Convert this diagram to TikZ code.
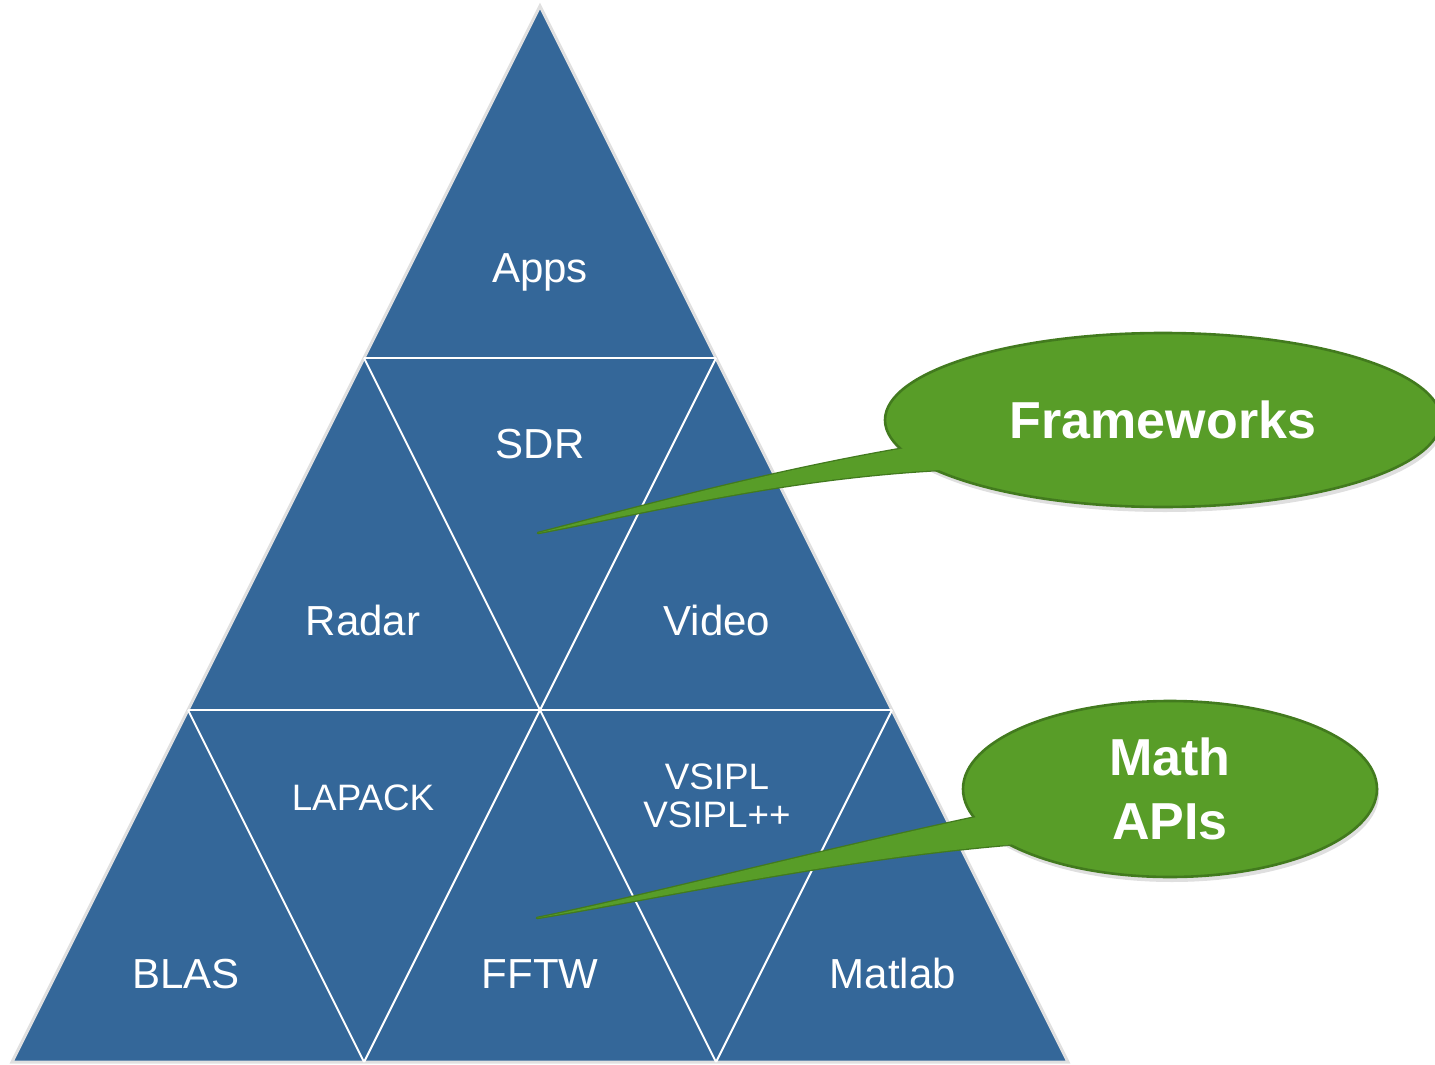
\documentclass[tikz,border=0pt]{standalone}
\usepackage{fontspec}
\setmainfont{Liberation Sans}
\usepackage{tikz}
\usetikzlibrary{positioning,calc,shapes.geometric,shadows}

\definecolor{pyramidblue}{RGB}{52,103,153}
\definecolor{bubblegreen}{RGB}{88,157,40}
\definecolor{bubbledark}{RGB}{66,122,30}

\begin{document}
\begin{tikzpicture}[x=0.5pt, y=-0.5pt,
    grid/.style={white, line width=1pt},
    lbl/.style={white, anchor=base, inner sep=0pt, font=\fontsize{21}{25}\selectfont},
    smalllbl/.style={white, inner sep=0pt, align=center, font=\fontsize{18.4}{19}\selectfont},
    bubble/.style={ellipse, fill=bubblegreen, draw=bubbledark, line width=1.3pt, inner sep=0pt,
        text=white, align=center, font=\bfseries\fontsize{26}{32}\selectfont,
        drop shadow={opacity=0.25, shadow xshift=1pt, shadow yshift=-2.5pt}},
    tailrim/.style={draw=bubbledark, line width=1.3pt, line join=round}]

    \useasboundingbox (0,0) rectangle (1435,1065);
    \clip (0,0) rectangle (1435,1065);

    % pyramid corners
    \coordinate (top) at (540,6);
    \coordinate (l1) at (364,358);
    \coordinate (r1) at (716,358);
    \coordinate (l2) at (188,710);
    \coordinate (m2) at (540,710);
    \coordinate (r2) at (892,710);
    \coordinate (b0) at (12,1062);
    \coordinate (b1) at (364,1062);
    \coordinate (b2) at (716,1062);
    \coordinate (b3) at (1068,1062);

    \draw[black!12, line width=1.5pt, fill=pyramidblue] (top) -- (b3) -- (b0) -- cycle;
    \draw[grid] (l1) -- (r1) (l2) -- (r2);
    \draw[grid] (l1) -- (b2) (r1) -- (b1) (l2) -- (b1) (r2) -- (b2);

    \node[lbl] (apps) at (540,282) {Apps};
    \node[lbl] (sdr) at (540,458) {SDR};
    \node[lbl] (radar) at (363,635) {Radar};
    \node[lbl] (video) at (717,635) {Video};
    \node[smalllbl, anchor=base] (lapack) at (363,810) {LAPACK};
    \node[smalllbl] (vsipl) at (717,796) {VSIPL\\VSIPL++};
    \node[lbl] (blas) at (186,988) {BLAS};
    \node[lbl] (fftw) at (540,988) {FFTW};
    \node[lbl] (matlab) at (893,988) {Matlab};

    % callouts
    \coordinate (fwtip) at (538,533);
    \coordinate (mtip) at (537,918);
    \path[tailrim, save path=\fwtail] (fwtip) .. controls (640,507) and (780,468) .. (930,444)
        -- (1000,468) .. controls (820,470) and (680,506) .. (fwtip) -- cycle;
    \path[tailrim, save path=\mtail] (mtip) .. controls (650,895) and (820,850) .. (1000,812)
        -- (1030,843) .. controls (850,856) and (660,898) .. (mtip) -- cycle;

    \node[bubble, minimum width=278pt, minimum height=87pt] (fw) at (1163,420) {Frameworks};
    \node[bubble, minimum width=207pt, minimum height=88pt] (math) at (1170,789) {Math\\APIs};

    \path[use path=\fwtail, fill=bubblegreen];
    \path[use path=\mtail, fill=bubblegreen];
\end{tikzpicture}
\end{document}
